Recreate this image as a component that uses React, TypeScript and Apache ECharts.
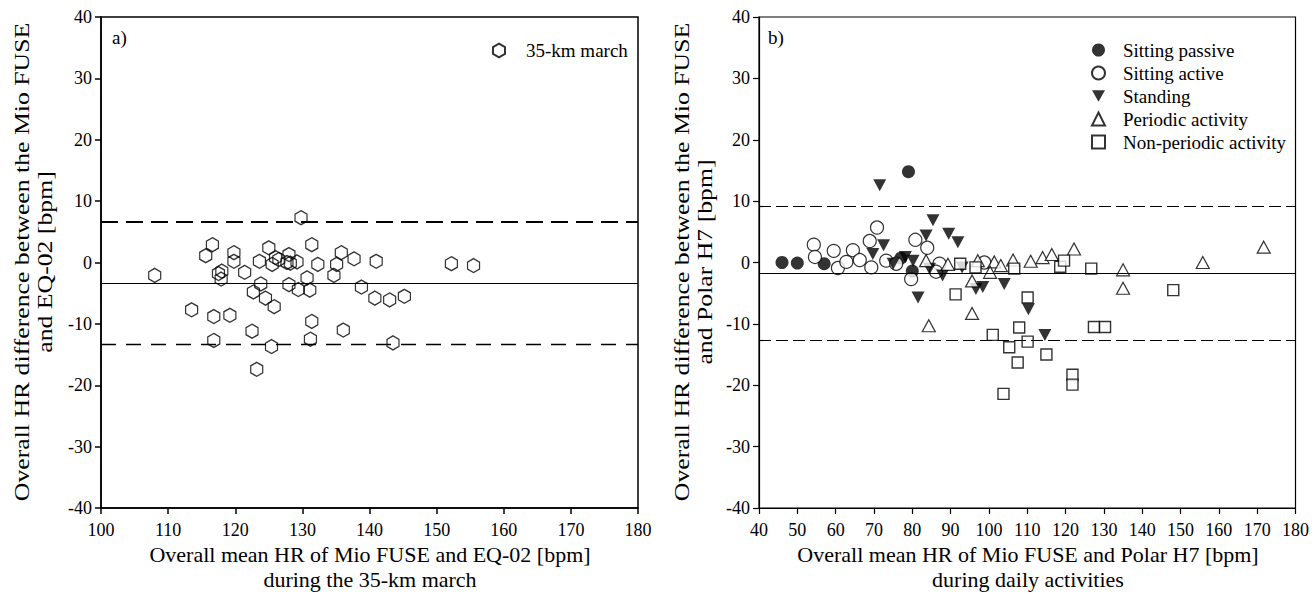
import React, { useEffect, useRef } from "react";
import * as echarts from "echarts";

// ---- data ----
const marchData: number[][] = [
  [108.0, -2.1], [129.8, 7.3], [116.6, 2.9], [115.6, 1.1], [119.8, 1.6], [119.8, 0.2],
  [125.0, 2.4], [123.6, 0.2], [126.0, 0.8], [125.5, -0.3], [126.5, 0.5], [127.7, 0.0],
  [128.0, 1.3], [128.2, -0.1], [129.2, 0.1], [131.4, 2.9], [132.3, -0.3], [135.8, 1.6],
  [135.1, -0.3], [134.7, -2.1], [137.7, 0.6], [141.0, 0.2], [118.0, -1.4], [117.5, -1.8],
  [117.9, -2.7], [121.4, -1.6], [123.8, -3.5], [122.7, -4.8], [124.5, -5.8], [125.8, -7.2],
  [128.0, -3.6], [129.4, -4.4], [130.7, -2.5], [131.1, -4.5], [138.8, -4.0], [140.8, -5.8],
  [143.0, -6.1], [145.2, -5.5], [143.5, -13.1], [152.2, -0.2], [155.5, -0.5], [113.5, -7.7],
  [116.8, -8.8], [119.2, -8.6], [116.8, -12.7], [122.5, -11.2], [125.4, -13.7], [123.2, -17.4],
  [131.4, -9.6], [131.2, -12.5], [136.1, -11.0],
];
const marchBias = -3.4;
const marchLimits = [6.7, -13.4];

const sittingPassive: number[][] = [
  [46.0, 0.0], [50.0, -0.1], [57.0, -0.2], [79.0, 14.8], [77.0, 0.7], [80.0, -1.4],
];
const sittingActive: number[][] = [
  [54.3, 2.9], [54.6, 0.9], [59.5, 1.9], [60.6, -0.9], [62.8, 0.1], [64.5, 2.0],
  [66.3, 0.4], [68.9, 3.5], [70.8, 5.7], [69.3, -0.8], [73.2, 0.3], [75.8, -0.2],
  [79.7, -2.7], [80.8, 3.7], [83.9, 2.4], [87.1, -0.2], [86.2, -1.5], [98.8, 0.0],
];
const standing: number[][] = [
  [71.5, 12.6], [85.4, 6.9], [83.6, 4.4], [89.5, 4.7], [91.9, 3.3], [72.5, 2.8],
  [69.7, 1.4], [75.0, -0.2], [80.2, 0.3], [78.2, 0.9], [81.5, -5.7], [87.9, -2.1],
  [93.0, -0.8], [96.6, -4.3], [98.4, -4.0], [104.0, -3.5], [84.5, -1.0], [110.3, -7.6],
  [114.6, -11.8],
];
const periodic: number[][] = [
  [83.6, 0.3], [89.3, -0.3], [97.1, 0.3], [95.6, -3.0], [95.6, -8.3], [84.3, -10.3],
  [101.4, 0.1], [103.1, -0.5], [106.3, 0.4], [110.9, 0.2], [114.0, 0.8], [116.4, 1.3],
  [122.2, 2.2], [135.0, -1.2], [135.0, -4.2], [155.8, 0.0], [171.7, 2.5], [100.3, -1.6],
];
const nonPeriodic: number[][] = [
  [92.5, -0.2], [96.5, -0.8], [91.3, -5.2], [106.6, -1.0], [110.1, -5.7], [118.6, -0.7],
  [119.6, 0.3], [126.7, -1.0], [148.1, -4.5], [101.0, -11.8], [107.9, -10.6], [110.1, -12.9],
  [105.3, -13.8], [115.0, -15.0], [107.5, -16.3], [103.8, -21.4], [121.8, -18.3], [121.8, -19.9],
  [127.4, -10.5], [130.3, -10.5],
];
const dailyBias = -1.7;
const dailyLimits = [9.2, -12.6];

const leftXRange = [100, 180];
const rightXRange = [40, 180];
const yRange = [-40, 40];
const tickStep = 10;

// ---- style ----
const FONT = '"Liberation Serif", "Times New Roman", serif';
const HEX = "path://M0,-1L0.866,-0.5L0.866,0.5L0,1L-0.866,0.5L-0.866,-0.5Z";
const DOWN_TRI = "path://M0,0L2,0L1,1.8Z";

function xAxisCfg(gridIndex: number, range: number[], lw: number) {
  return {
    gridIndex,
    type: "value",
    min: range[0],
    max: range[1],
    interval: tickStep,
    axisLine: { show: true, onZero: false, lineStyle: { color: "#000", width: lw } },
    axisTick: { show: true, inside: false, length: 6, lineStyle: { color: "#000", width: lw } },
    axisLabel: { fontSize: 18, color: "#000", margin: 13, fontFamily: FONT },
    splitLine: { show: false },
  };
}
function yAxisCfg(gridIndex: number, lw: number) {
  return {
    gridIndex,
    type: "value",
    min: yRange[0],
    max: yRange[1],
    interval: tickStep,
    axisLine: { show: true, onZero: false, lineStyle: { color: "#000", width: lw } },
    axisTick: { show: true, inside: false, length: 6, lineStyle: { color: "#000", width: lw } },
    axisLabel: { fontSize: 18, color: "#000", margin: 9, fontFamily: FONT },
    splitLine: { show: false },
  };
}

const openStyle = { color: "#fff", borderColor: "#000", borderWidth: 1.2 };
const filledStyle = { color: "#000", borderColor: "#000", borderWidth: 0 };

function yTitle(x: number, text: string) {
  return {
    type: "text",
    x,
    y: 262,
    rotation: Math.PI / 2,
    scaleX: 1.17,
    style: {
      text,
      fontSize: 22,
      lineHeight: 23,
      fontFamily: FONT,
      fill: "#000",
      align: "center",
      verticalAlign: "middle",
    },
  };
}
function xTitle(x: number, text: string) {
  return {
    type: "text",
    x,
    y: 567,
    style: {
      text,
      fontSize: 22,
      lineHeight: 25,
      fontFamily: FONT,
      fill: "#000",
      align: "center",
      verticalAlign: "middle",
    },
  };
}

function App() {
  const ref = useRef<HTMLDivElement>(null);
  useEffect(() => {
    if (!ref.current) return;
    const chart = echarts.init(ref.current, null, { renderer: "svg" });
    const option: any = {
      animation: false,
      textStyle: { fontFamily: FONT, color: "#000" },
      grid: [
        { left: 101, top: 17, width: 537, height: 491, show: true, borderColor: "#000", borderWidth: 1.5 },
        { left: 759, top: 17, width: 538, height: 491, show: true, borderColor: "#000", borderWidth: 1.2 },
      ],
      xAxis: [xAxisCfg(0, leftXRange, 1.5), xAxisCfg(1, rightXRange, 1.2)],
      yAxis: [yAxisCfg(0, 1.5), yAxisCfg(1, 1.2)],
      legend: [
        {
          data: ["35-km march"],
          left: 487,
          top: 36,
          itemWidth: 12,
          itemHeight: 14,
          selectedMode: false,
          textStyle: { fontSize: 19, color: "#000", fontFamily: FONT, padding: [0, 0, 0, 16] },
        },
        {
          data: [
            { name: "Sitting passive" },
            { name: "Sitting active" },
            { name: "Standing", icon: DOWN_TRI },
            { name: "Periodic activity" },
            { name: "Non-periodic activity" },
          ],
          orient: "vertical",
          left: 1086,
          top: 35,
          itemWidth: 13,
          itemHeight: 13,
          itemGap: 3,
          selectedMode: false,
          textStyle: { fontSize: 19, lineHeight: 20, color: "#000", fontFamily: FONT, padding: [0, 0, 0, 13] },
        },
      ],
      series: [
        {
          type: "scatter",
          name: "35-km march",
          xAxisIndex: 0,
          yAxisIndex: 0,
          data: marchData,
          symbol: HEX,
          symbolSize: [12, 14],
          itemStyle: { color: "rgba(255,255,255,0)", borderColor: "#000", borderWidth: 1.3 },
          markLine: {
            silent: true,
            symbol: ["none", "none"],
            label: { show: false },
            data: [
              { yAxis: marchLimits[0], lineStyle: { color: "#000", width: 2.2, type: [17, 8] } },
              { yAxis: marchBias, lineStyle: { color: "#000", width: 1, type: "solid" } },
              { yAxis: marchLimits[1], lineStyle: { color: "#000", width: 1.3, type: [15, 10] } },
            ],
          },
        },
        {
          type: "scatter",
          name: "Sitting passive",
          xAxisIndex: 1,
          yAxisIndex: 1,
          data: sittingPassive,
          symbol: "circle",
          symbolSize: 13,
          itemStyle: filledStyle,
          markLine: {
            silent: true,
            symbol: ["none", "none"],
            label: { show: false },
            data: [
              { yAxis: dailyLimits[0], lineStyle: { color: "#000", width: 1.2, type: [12, 5] } },
              { yAxis: dailyBias, lineStyle: { color: "#000", width: 1.2, type: "solid" } },
              { yAxis: dailyLimits[1], lineStyle: { color: "#000", width: 1.2, type: [12, 5] } },
            ],
          },
        },
        {
          type: "scatter",
          name: "Sitting active",
          xAxisIndex: 1,
          yAxisIndex: 1,
          data: sittingActive,
          symbol: "circle",
          symbolSize: 13,
          itemStyle: openStyle,
        },
        {
          type: "scatter",
          name: "Standing",
          xAxisIndex: 1,
          yAxisIndex: 1,
          data: standing,
          symbol: "triangle",
          symbolRotate: 180,
          symbolSize: [13, 12],
          itemStyle: filledStyle,
        },
        {
          type: "scatter",
          name: "Periodic activity",
          xAxisIndex: 1,
          yAxisIndex: 1,
          data: periodic,
          symbol: "triangle",
          symbolSize: [13, 12],
          itemStyle: openStyle,
        },
        {
          type: "scatter",
          name: "Non-periodic activity",
          xAxisIndex: 1,
          yAxisIndex: 1,
          data: nonPeriodic,
          symbol: "rect",
          symbolSize: 11,
          itemStyle: { ...openStyle, borderWidth: 1.4 },
        },
      ],
      graphic: [
        { type: "text", left: 112, top: 28, style: { text: "a)", fontSize: 19, fontFamily: FONT, fill: "#000" } },
        { type: "text", left: 768, top: 28, style: { text: "b)", fontSize: 19, fontFamily: FONT, fill: "#000" } },
        yTitle(33, "Overall HR difference between the Mio FUSE\nand EQ-02 [bpm]"),
        yTitle(693, "Overall HR difference between the Mio FUSE\nand Polar H7 [bpm]"),
        xTitle(370, "Overall mean HR of Mio FUSE and EQ-02 [bpm]\nduring the 35-km march"),
        xTitle(1028, "Overall mean HR of Mio FUSE and Polar H7 [bpm]\nduring daily activities"),
      ],
    };
    chart.setOption(option);
    return () => chart.dispose();
  }, []);
  return (
    <div
      ref={ref}
      style={{ position: "absolute", left: 0, top: 0, width: 1312, height: 596, background: "#fff" }}
    />
  );
}

export default App;
